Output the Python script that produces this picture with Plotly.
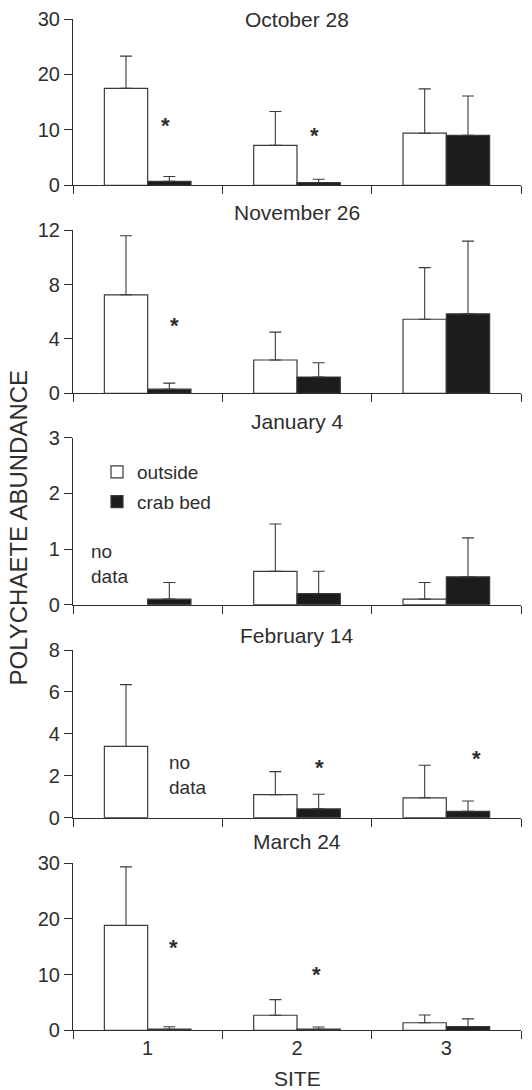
import plotly.graph_objects as go
from plotly.subplots import make_subplots

# ---------------- data ----------------
sites = ["1", "2", "3"]
dates = ["October 28", "November 26", "January 4", "February 14", "March 24"]

outside_mean = [
    [17.5, 7.2, 9.4],
    [7.25, 2.45, 5.45],
    [None, 0.6, 0.1],
    [3.4, 1.1, 0.95],
    [18.8, 2.7, 1.35],
]
outside_se = [
    [5.8, 6.1, 8.0],
    [4.35, 2.05, 3.8],
    [None, 0.85, 0.3],
    [2.95, 1.1, 1.55],
    [10.5, 2.8, 1.4],
]
crab_mean = [
    [0.7, 0.5, 9.0],
    [0.3, 1.2, 5.85],
    [0.1, 0.2, 0.5],
    [None, 0.42, 0.3],
    [0.2, 0.2, 0.65],
]
crab_se = [
    [0.9, 0.6, 7.1],
    [0.45, 1.05, 5.35],
    [0.3, 0.4, 0.7],
    [None, 0.7, 0.5],
    [0.45, 0.4, 1.4],
]
y_max = [30, 12, 3, 8, 30]
y_dtick = [10, 4, 1, 2, 10]

# significance asterisks: (panel, site index position, y value)
asterisks = [
    (0, 0.12, 11.0), (0, 1.12, 9.2),
    (1, 0.18, 5.1),
    (3, 1.15, 2.42), (3, 2.2, 2.86),
    (4, 0.17, 15.1), (4, 1.13, 10.1),
]
# "no data" notes: (panel, x position, y value)
no_data = [(2, -0.39, 0.73), (3, 0.13, 2.04)]

# ---------------- layout geometry (pixels in the reference image) ----------------
W, H = 532, 1090
ML, MR = 73, 11
panel_px = [(19, 185.3), (230.3, 393.3), (437.7, 604.7), (650, 817.7), (863, 1030.3)]
title_px = [19, 213, 421.5, 635, 841]


def py(p):
    """reference pixel row -> paper y"""
    return 1 - p / H


def px(p):
    """reference pixel column -> paper x"""
    return (p - ML) / (W - ML - MR)


FONT = "Arial, Liberation Sans, sans-serif"
INK = "#2e2e2e"

fig = make_subplots(rows=5, cols=1)

for i in range(5):
    show = (i == 2)
    fig.add_trace(go.Bar(
        x=sites, y=outside_mean[i], name="outside",
        marker=dict(color="white", line=dict(color="#3a3a3a", width=1.2)),
        error_y=dict(type="data", symmetric=False, array=outside_se[i],
                     arrayminus=[0, 0, 0], color="#3a3a3a", thickness=1.1, width=6),
        showlegend=show, legendgroup="a",
    ), row=i + 1, col=1)
    fig.add_trace(go.Bar(
        x=sites, y=crab_mean[i], name="crab bed",
        marker=dict(color="#1c1c1c", line=dict(color="#3a3a3a", width=1.2)),
        error_y=dict(type="data", symmetric=False, array=crab_se[i],
                     arrayminus=[0, 0, 0], color="#3a3a3a", thickness=1.1, width=6),
        showlegend=show, legendgroup="b",
    ), row=i + 1, col=1)

for i in range(5):
    top, bot = panel_px[i]
    xa = "xaxis" if i == 0 else f"xaxis{i + 1}"
    ya = "yaxis" if i == 0 else f"yaxis{i + 1}"
    fig.layout[xa].update(
        type="category", range=[-0.5, 2.5], domain=[0, 1], automargin=False,
        showline=True, linecolor=INK, linewidth=1.2,
        ticks="outside", tickson="boundaries", ticklen=8, tickcolor=INK, tickwidth=1.2,
        showticklabels=(i == 4), showgrid=False, zeroline=False,
        tickfont=dict(family=FONT, size=20, color=INK),
    )
    fig.layout[ya].update(
        range=[0, y_max[i]], dtick=y_dtick[i], tick0=0, automargin=False,
        domain=[py(bot), py(top)],
        showline=True, linecolor=INK, linewidth=1.2,
        ticks="outside", ticklen=8, tickcolor=INK, tickwidth=1.2,
        showgrid=False, zeroline=False,
        tickfont=dict(family=FONT, size=20, color=INK),
    )

annotations = []
for i, d in enumerate(dates):
    annotations.append(dict(
        text=d, xref="paper", yref="paper", x=0.5, y=py(title_px[i]),
        xanchor="center", yanchor="middle", showarrow=False,
        font=dict(family=FONT, size=21, color=INK),
    ))

for (p, xpos, yval) in asterisks:
    sfx = "" if p == 0 else str(p + 1)
    annotations.append(dict(
        text="<b>*</b>", xref="x" + sfx, yref="y" + sfx, x=xpos, y=yval,
        xanchor="center", yanchor="middle", showarrow=False, yshift=-1,
        font=dict(family=FONT, size=22, color=INK),
    ))

for (p, xpos, yval) in no_data:
    sfx = "" if p == 0 else str(p + 1)
    annotations.append(dict(
        text="no<br>data", xref="x" + sfx, yref="y" + sfx, x=xpos, y=yval,
        xanchor="left", yanchor="middle", align="left", showarrow=False,
        font=dict(family=FONT, size=19, color=INK),
    ))

annotations.append(dict(
    text="POLYCHAETE ABUNDANCE", xref="paper", yref="paper",
    x=px(17.5), y=py(528), textangle=-90,
    xanchor="center", yanchor="middle", showarrow=False,
    font=dict(family=FONT, size=24, color=INK),
))
annotations.append(dict(
    text="SITE", xref="paper", yref="paper",
    x=0.5, y=py(1078), xanchor="center", yanchor="middle", showarrow=False,
    font=dict(family=FONT, size=21, color=INK),
))

fig.update_layout(
    width=W, height=H,
    margin=dict(l=ML, r=MR, t=0, b=0, autoexpand=False),
    paper_bgcolor="white", plot_bgcolor="white",
    barmode="group", bargap=0.42, bargroupgap=0,
    annotations=annotations,
    legend=dict(
        x=px(97), y=py(453), xanchor="left", yanchor="top",
        bgcolor="rgba(0,0,0,0)", font=dict(family=FONT, size=19, color=INK),
        traceorder="grouped", tracegroupgap=2, itemwidth=30,
    ),
    font=dict(family=FONT, color=INK),
)

fig.write_html(
    "out.html",
    config={"displayModeBar": False},
    post_script="document.body.style.margin='0';document.body.style.overflow='hidden';",
)
